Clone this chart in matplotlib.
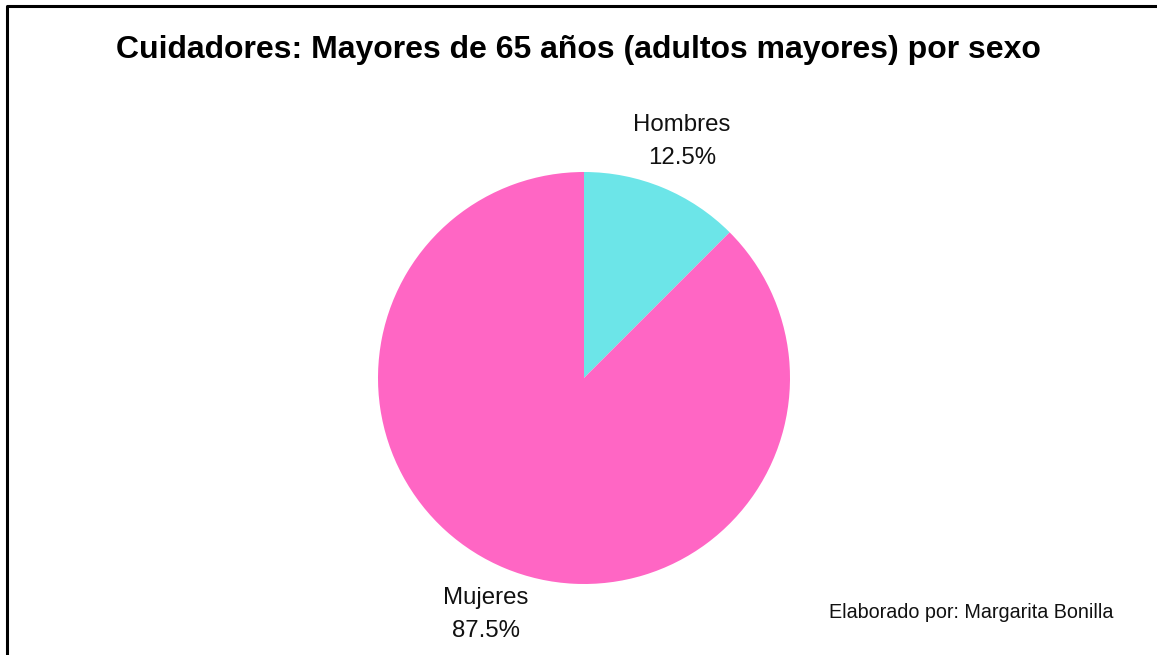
import matplotlib.pyplot as plt
from matplotlib.lines import Line2D
import numpy as np

plt.rcParams['font.family'] = ['Liberation Sans', 'DejaVu Sans']

# Share of caregivers over 65, by sex
categorias = ['Hombres', 'Mujeres']
porcentajes = [12.5, 87.5]
colores = ['#6ce5e8', '#ff66c4']

titulo = 'Cuidadores: Mayores de 65 años (adultos mayores) por sexo'
autor = 'Elaborado por: Margarita Bonilla'

W, H = 1157, 655
fig = plt.figure(figsize=(W / 100, H / 100), dpi=100)
fig.patch.set_facecolor('white')

# pie centered at (584, 378) px with radius ~206 px
cx, cy, r = 584, 378, 206
ax = fig.add_axes([(cx - r) / W, (H - cy - r) / H, 2 * r / W, 2 * r / H])
wedges, _ = ax.pie(porcentajes, colors=colores, startangle=90, counterclock=False,
                   wedgeprops=dict(linewidth=0))
for w in wedges:
    w.set_clip_on(False)
ax.set_xlim(-1, 1)
ax.set_ylim(-1, 1)
ax.set_aspect('equal')
ax.axis('off')

# labels outside each wedge: name on top, percentage below
for w, nombre, pct in zip(wedges, categorias, porcentajes):
    ang = np.deg2rad((w.theta1 + w.theta2) / 2)
    d = 1.245
    ax.text(d * np.cos(ang), d * np.sin(ang), f'{nombre}\n{pct:.1f}%',
            ha='center', va='center', fontsize=17.3, linespacing=1.65, color='#111111')

fig.text(0.5, 1 - 50 / H, titulo, ha='center', va='center',
         fontsize=23, fontweight='bold', color='black')
fig.text(829 / W, 1 - 613 / H, autor, ha='left', va='center',
         fontsize=14.2, color='#111111')

# black frame on the left and top edges
fig.add_artist(Line2D([7 / W, 7 / W, 1], [0, 1 - 6 / H, 1 - 6 / H],
                      color='black', linewidth=2.2, transform=fig.transFigure))

fig.savefig('out.png', dpi=100)
